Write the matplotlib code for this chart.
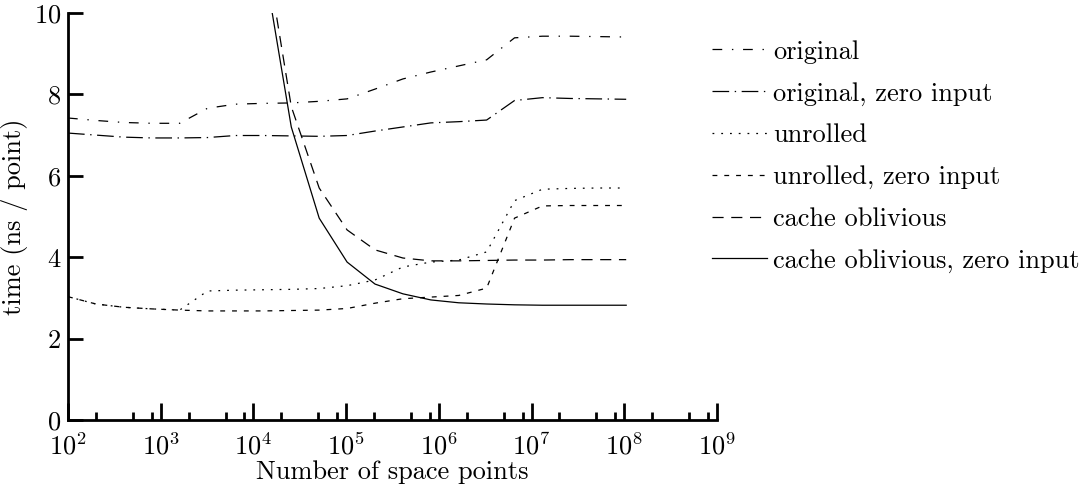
import numpy as np
import matplotlib
matplotlib.use("Agg")
import matplotlib.pyplot as plt
from matplotlib.ticker import LogLocator, FixedLocator, FuncFormatter, NullFormatter

plt.rcParams['font.family'] = 'serif'
plt.rcParams['font.serif'] = ['cmr10']
plt.rcParams['mathtext.fontset'] = 'cm'
plt.rcParams['axes.formatter.use_mathtext'] = True
plt.rcParams['lines.scale_dashes'] = False

nan = np.nan
points = [100, 200, 400, 800, 1600, 3200, 6400, 12800, 25600, 51200, 102400,
          204800, 409600, 819200, 1638400, 3276800, 6553600, 13107200,
          26214400, 52428800, 104857600]

original = [7.42, 7.36, 7.31, 7.29, 7.29, 7.66, 7.76, 7.78, 7.79, 7.83, 7.89,
            8.13, 8.38, 8.55, 8.70, 8.85, 9.39, 9.43, 9.43, 9.42, 9.41]
original_zero = [7.05, 7.00, 6.95, 6.93, 6.93, 6.94, 6.99, 6.99, 6.98, 6.97, 6.99,
                 7.10, 7.20, 7.30, 7.33, 7.37, 7.85, 7.92, 7.90, 7.89, 7.88]
unrolled = [3.03, 2.85, 2.77, 2.73, 2.70, 3.17, 3.19, 3.20, 3.21, 3.23, 3.30,
            3.44, 3.76, 3.88, 3.93, 4.13, 5.39, 5.67, 5.69, 5.70, 5.70]
unrolled_zero = [3.03, 2.85, 2.77, 2.73, 2.70, 2.68, 2.68, 2.68, 2.69, 2.70, 2.74,
                 2.87, 2.98, 3.02, 3.06, 3.24, 4.96, 5.26, 5.27, 5.27, 5.27]
cache_obl = [nan, nan, nan, nan, nan, nan, nan, 11.9, 7.70, 5.70, 4.67,
             4.18, 3.98, 3.91, 3.91, 3.92, 3.93, 3.93, 3.94, 3.94, 3.94]
cache_obl_zero = [nan, nan, nan, nan, nan, nan, nan, 11.3, 7.20, 4.96, 3.88,
                  3.34, 3.10, 2.95, 2.88, 2.85, 2.83, 2.82, 2.82, 2.82, 2.82]

labels = ["original", "original, zero input", "unrolled", "unrolled, zero input",
          "cache oblivious", "cache oblivious, zero input"]
series = [original, original_zero, unrolled, unrolled_zero, cache_obl, cache_obl_zero]
styles = [(0, (7, 7, 1, 7)),
          (0, (12, 4, 1, 4)),
          (0, (1.3, 5)),
          (0, (3.5, 5)),
          (0, (8, 5.5)),
          '-']

y_ticks = [0, 2, 4, 6, 8, 10]
x_major = [1e2, 1e3, 1e4, 1e5, 1e6, 1e7, 1e8, 1e9]

FS = 19

fig = plt.figure(figsize=(10.91, 4.90), dpi=100)
ax = fig.add_axes([68/1091, 70/490, 649/1091, 407/490])

for vals, ls, lab in zip(series, styles, labels):
    ax.plot(points, vals, color='black', linestyle=ls, linewidth=0.9, label=lab)

ax.set_xscale('log')
ax.set_xlim(1e2, 1e9)
ax.set_ylim(0, 10)
ax.xaxis.set_major_locator(FixedLocator(x_major))
ax.xaxis.set_minor_locator(LogLocator(base=10, subs=(2, 5, 8)))
ax.xaxis.set_minor_formatter(NullFormatter())
ax.xaxis.set_major_formatter(FuncFormatter(lambda v, p: r'$10^{%d}$' % round(np.log10(v))))
ax.yaxis.set_major_locator(FixedLocator(y_ticks))

for s in ['top', 'right']:
    ax.spines[s].set_visible(False)
for s in ['left', 'bottom']:
    ax.spines[s].set_linewidth(2.0)

ax.tick_params(axis='both', which='major', direction='in', width=2.0, labelsize=FS)
ax.tick_params(axis='y', which='major', length=11, pad=5)
ax.tick_params(axis='x', which='major', length=12, pad=9)
ax.tick_params(axis='x', which='minor', direction='in', width=2.0, length=6)

ax.set_xlabel("Number of space points", fontsize=FS, labelpad=1)
ax.set_ylabel("time (ns / point)", fontsize=FS, labelpad=4)

leg = fig.legend(loc='upper left', bbox_to_anchor=(712/1091, 1 - 40/490),
                 frameon=False, fontsize=FS, handlelength=2.08, handletextpad=0.23,
                 labelspacing=0.68, borderpad=0, borderaxespad=0)

fig.savefig("out.png", dpi=100)
